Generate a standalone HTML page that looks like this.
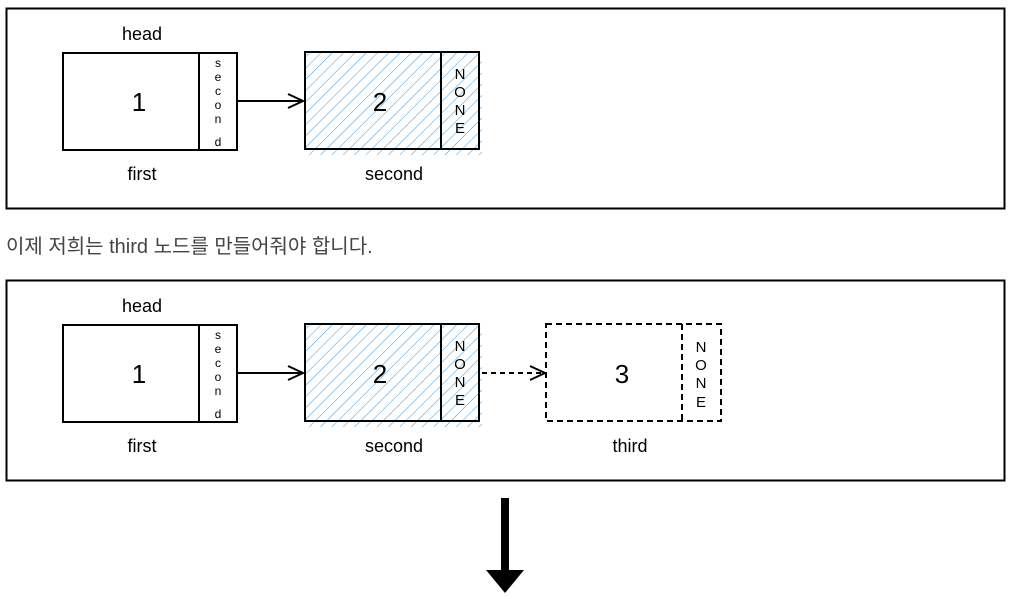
<!DOCTYPE html>
<html><head><meta charset="utf-8"><style>
body{margin:0;background:#fff;width:1017px;height:597px;overflow:hidden}
svg{display:block}
</style></head><body>
<svg width="1017" height="597" viewBox="0 0 1017 597" font-family="Liberation Sans, Arial, sans-serif">
<defs>
<pattern id="h" patternUnits="userSpaceOnUse" width="8" height="8" patternTransform="rotate(45)">
<line x1="0" y1="0" x2="0" y2="8" stroke="#3a9be8" stroke-width="1"/>
</pattern>
</defs>
<rect x="6.5" y="8.5" width="998" height="200" fill="none" stroke="#000" stroke-width="2"/>
<rect x="6.5" y="280.5" width="998" height="200" fill="none" stroke="#000" stroke-width="2"/>
<text x="6" y="253" font-size="20" fill="#444" font-family="Liberation Sans, Noto Sans CJK KR, sans-serif">이제 저희는 third 노드를 만들어줘야 합니다.</text>

<g id="p1">
<text x="142" y="40" font-size="18" text-anchor="middle">head</text>
<rect x="63" y="53" width="174" height="97" fill="#fff" stroke="#000" stroke-width="2"/>
<line x1="199" y1="53" x2="199" y2="150" stroke="#000" stroke-width="2"/>
<text x="139" y="111" font-size="26" text-anchor="middle">1</text>
<g font-size="12" text-anchor="middle"><text x="218" y="67">s</text><text x="218" y="81">e</text><text x="218" y="95">c</text><text x="218" y="109">o</text><text x="218" y="123">n</text><text x="218" y="146">d</text></g>
<text x="218" y="137" font-size="12" text-anchor="middle"></text>
<text x="142" y="180" font-size="18" text-anchor="middle">first</text>
<line x1="237" y1="101" x2="303" y2="101" stroke="#000" stroke-width="2"/>
<polyline points="288,94 303,101 288,108" fill="none" stroke="#000" stroke-width="2"/>
<rect x="305" y="52" width="177" height="103" fill="url(#h)"/>
<rect x="305" y="52" width="174" height="97" fill="none" stroke="#000" stroke-width="2"/>
<line x1="441" y1="52" x2="441" y2="149" stroke="#000" stroke-width="2"/>
<text x="380" y="111" font-size="26" text-anchor="middle">2</text>
<g font-size="15" text-anchor="middle"><text x="460" y="79">N</text><text x="460" y="97">O</text><text x="460" y="115">N</text><text x="460" y="133">E</text></g>
<text x="394" y="180" font-size="18" text-anchor="middle">second</text>
</g>
<use href="#p1" y="272"/>

<line x1="482" y1="373" x2="544" y2="373" stroke="#000" stroke-width="2" stroke-dasharray="5,4"/>
<polyline points="530,366 545,373 530,380" fill="none" stroke="#000" stroke-width="2"/>
<rect x="546" y="324" width="175" height="97" fill="none" stroke="#000" stroke-width="2" stroke-dasharray="6,4"/>
<line x1="682" y1="324" x2="682" y2="421" stroke="#000" stroke-width="2" stroke-dasharray="6,4"/>
<text x="622" y="383" font-size="26" text-anchor="middle">3</text>
<g font-size="15" text-anchor="middle"><text x="701" y="352">N</text><text x="701" y="370">O</text><text x="701" y="388">N</text><text x="701" y="407">E</text></g>
<text x="630" y="452" font-size="18" text-anchor="middle">third</text>

<rect x="501" y="498" width="8" height="74" fill="#000"/>
<polygon points="486,570 524,570 505,593" fill="#000"/>
</svg>
</body></html>
